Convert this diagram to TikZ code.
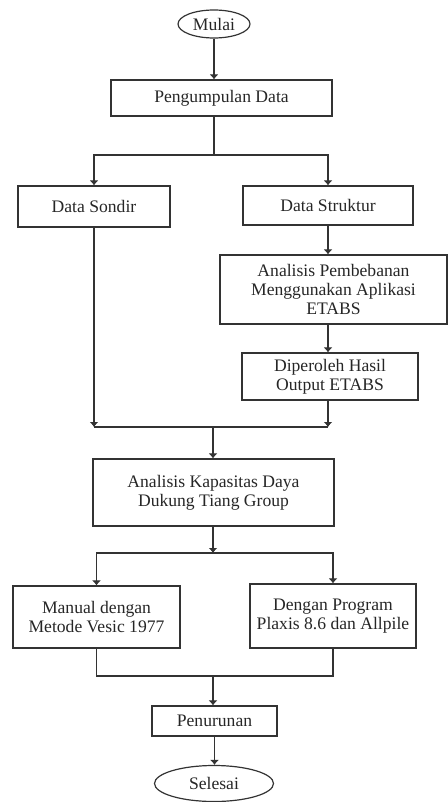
\documentclass[tikz,border=0pt]{standalone}
\usepackage{fontspec}
\setmainfont{Liberation Serif}
\usetikzlibrary{shapes, arrows, arrows.meta}
\tikzset{>={Latex[length=2.5pt,width=4.5pt]}}
\tikzset{kotak/.style={draw, rectangle, align=center, inner sep=1pt, font=\fontsize{8.8}{9.5}\selectfont},
         ujung/.style={draw, ellipse, inner sep=0pt, font=\fontsize{8.8}{9.5}\selectfont}}

\begin{document}
\begin{tikzpicture}[x=0.5pt, y=-0.5pt, line width=0.6pt, draw=black!80, text=black!85]

\useasboundingbox (0,0) rectangle (448,802);

\node[ujung, minimum width=36pt, minimum height=14pt] (mulai) at (214,24) {Mulai};
\node[kotak, minimum width=110.5pt, minimum height=18pt] (kumpul) at (221.5,98) {Pengumpulan Data};

\node[kotak, minimum width=76pt, minimum height=20.5pt] (sondir) at (94,206.5) {Data Sondir};
\node[kotak, minimum width=85pt, minimum height=19.5pt] (struktur) at (328,205.5) {Data Struktur};
\node[kotak, minimum width=113.5pt, minimum height=34.5pt] (beban) at (333.5,289.5) {Analisis Pembebanan\\Menggunakan Aplikasi\\ETABS};
\node[kotak, minimum width=88pt, minimum height=23.5pt] (hasil) at (330,376.5) {Diperoleh Hasil\\Output ETABS};

\node[kotak, minimum width=120.5pt, minimum height=33.5pt] (kapasitas) at (213.5,492.5) {Analisis Kapasitas Daya\\Dukung Tiang Group};

\node[kotak, minimum width=83.5pt, minimum height=31pt] (manual) at (96.5,617) {Manual dengan\\Metode Vesic 1977};
\node[kotak, minimum width=83pt, minimum height=32pt] (program) at (333,616) {Dengan Program\\Plaxis 8.6 dan Allpile};

\node[kotak, minimum width=62.5pt, minimum height=15pt] (turun) at (214.5,721) {Penurunan};
\node[ujung, minimum width=59.5pt, minimum height=18pt] (selesai) at (214,783.5) {Selesai};

% percabangan dan penggabungan
\coordinate (cabang1) at (214,155);
\coordinate (gabung1) at (213,427);
\coordinate (cabang2) at (213,553);
\coordinate (gabung2) at (213,676);

\draw[->] (mulai.south) -- (mulai.south |- kumpul.north);
\draw (kumpul.south -| cabang1) -- (cabang1);
\draw[<->] (sondir.north) |- (cabang1) -| (struktur.north);

\draw[->] (struktur.south) -- (struktur.south |- beban.north);
\draw[->] (struktur.south |- beban.south) -- (struktur.south |- hasil.north);

\draw[->] (sondir.south) -- (sondir.south |- gabung1);
\draw[->] (struktur.south |- hasil.south) -- (struktur.south |- gabung1);
\draw (sondir.south |- gabung1) -- (struktur.south |- gabung1);
\draw[->] (gabung1) -- (gabung1 |- kapasitas.north);

\draw[->] (kapasitas.south -| cabang2) -- (cabang2);
\draw[<->] (manual.north) |- (cabang2) -| (program.north);

\draw (manual.south) |- (gabung2) -| (program.south);
\draw[->] (gabung2) -- (gabung2 |- turun.north);
\draw[->] (turun.south) -- (turun.south |- selesai.north);

\end{tikzpicture}
\end{document}
